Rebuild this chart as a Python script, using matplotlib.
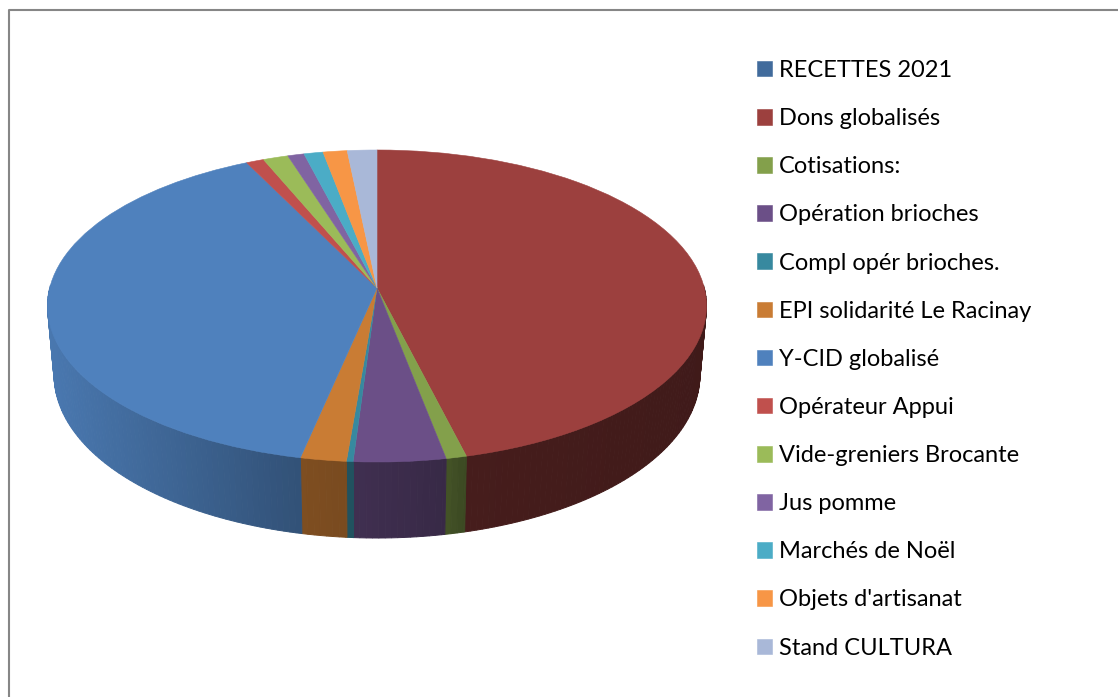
import matplotlib
matplotlib.use("Agg")
import matplotlib.pyplot as plt
import matplotlib.transforms as mtransforms
import numpy as np

plt.rcParams['font.family'] = ['Lato', 'DejaVu Sans']

# Data (percent of the total)
labels = ["RECETTES 2021", "Dons globalisés", "Cotisations:", "Opération brioches",
          "Compl opér brioches.", "EPI solidarité Le Racinay", "Y-CID globalisé",
          "Opérateur Appui", "Vide-greniers Brocante", "Jus pomme", "Marchés de Noël",
          "Objets d'artisanat", "Stand CULTURA"]
values = [0, 46.1, 0.9, 4.03, 0.29, 2.01, 39.43, 0.97, 1.38, 0.9, 1.05, 1.32, 1.62]
colors = ["#416B9C", "#9C403E", "#83A04B", "#6B4F87", "#37899F", "#C97C34", "#4F81BD",
          "#C0504D", "#9BBB59", "#8064A2", "#4BACC6", "#F79646", "#A9B8D8"]

# Perspective of the disc, in pixels
CX = 377
APEX_Y = 288
RX = 327.3
TILT_B = -120.7
TILT_C = 0.1154


def project(x, y):
    w = 1 + TILT_C * y
    return CX + RX * x / w, (APEX_Y + TILT_B * y) / w


class Tilt(mtransforms.Transform):
    input_dims = 2
    output_dims = 2

    def transform_non_affine(self, values):
        values = np.asarray(values)
        px, py = project(values[:, 0], values[:, 1])
        return np.column_stack([px, py])


fig = plt.figure(figsize=(11.18, 6.97), dpi=100)
ax = fig.add_axes([0, 0, 1, 1])

wedges, _ = ax.pie(values, colors=colors, startangle=90, counterclock=False)

# pie() makes the axes square, go back to pixel coordinates
ax.set_aspect("auto")
ax.set_xlim(0, 1118)
ax.set_ylim(697, 0)
ax.axis("off")

for w in wedges:
    w.set_transform(Tilt() + ax.transData)
    w.set_edgecolor(w.get_facecolor())
    w.set_linewidth(0.4)
    w.set_zorder(3)

# Side wall: narrow strips under the front half of every slice
shade_x = [48, 300, 350, 447, 467, 706]
shade_k = [0.93, 0.63, 0.60, 0.52, 0.45, 0.41]


def wall_point(deg):
    c, s = np.cos(np.radians(deg)), np.sin(np.radians(deg))
    x, y = project(c, s)
    return CX + (x - CX) * 0.98, y + 68 - 8 * s, x, y


for w in wedges:
    base = np.array(w.get_facecolor()[:3])
    steps = np.append(np.arange(w.theta1, w.theta2, 1.0), w.theta2)
    for a, b in zip(steps[:-1], steps[1:]):
        if np.sin(np.radians((a + b) / 2)) > 0.02:
            continue
        xa2, ya2, xa, ya = wall_point(a)
        xb2, yb2, xb, yb = wall_point(b)
        k = np.interp((xa + xb) / 2, shade_x, shade_k)
        col = base * k
        ax.fill([xa, xb, xb2, xa2], [ya, yb, yb2, ya2], facecolor=col, edgecolor=col,
                lw=0.7, zorder=2)

# Chart border, only left and top show
ax.plot([9, 9, 1118], [697, 10, 10], color="#868686", lw=1.5, zorder=1)

fs = 17
ax.legend(wedges, labels, loc="upper left", bbox_to_anchor=(757 / 1118, 1 - 60 / 697),
          frameon=False, fontsize=fs, labelcolor="#000000", borderpad=0, borderaxespad=0,
          handlelength=15 * 0.72 / fs, handleheight=15 * 0.72 / fs, handletextpad=0.3,
          labelspacing=(48.17 * 0.72 - 0.915 * fs) / fs + 0.024)

fig.savefig("out.png", dpi=100)
